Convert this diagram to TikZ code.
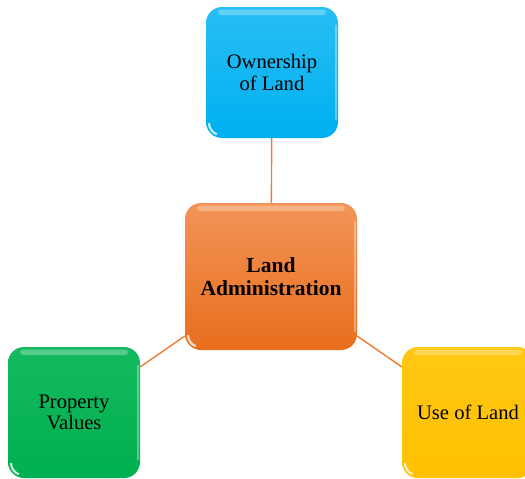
\documentclass[tikz,border=0pt]{standalone}
\usepackage{fontspec}
\setmainfont{Liberation Serif}
\usetikzlibrary{backgrounds}
\definecolor{cblue}{RGB}{0,176,240}
\definecolor{cbluetop}{RGB}{40,190,245}
\definecolor{corange}{RGB}{237,125,49}
\definecolor{corangetop}{RGB}{243,148,88}
\definecolor{corangebot}{RGB}{232,110,28}
\definecolor{cgreen}{RGB}{0,176,80}
\definecolor{cgreentop}{RGB}{20,185,95}
\definecolor{cyellow}{RGB}{255,192,0}
\definecolor{cyellowtop}{RGB}{255,200,20}
\definecolor{cline}{RGB}{237,125,49}
\tikzset{
  x=1pt,y=1pt,
  glossbox/.style={rounded corners=16pt, inner sep=0pt, align=center,
    font=\fontsize{20.6}{21.5}\selectfont,
    path picture={
      \fill[white,opacity=0.28,rounded corners=3pt]
        ([xshift=12pt,yshift=-2.5pt]path picture bounding box.north west) rectangle
        ([xshift=-12pt,yshift=-8pt]path picture bounding box.north east);
      \draw[white,opacity=0.75,line width=2.2pt]
        ([xshift=3pt,yshift=15pt]path picture bounding box.south west)
        arc[start angle=180,end angle=250,radius=12pt];
      \draw[white,opacity=0.35,line width=1.5pt]
        ([xshift=-2pt,yshift=-18pt]path picture bounding box.north east) --
        ([xshift=-2pt,yshift=18pt]path picture bounding box.south east);
    }},
  smallbox/.style={glossbox, minimum width=132pt, minimum height=131pt},
  link/.style={draw=cline, line width=1.4pt}
}
\begin{document}
\begin{tikzpicture}
\useasboundingbox (0,0) rectangle (525,-479);
\node[smallbox, top color=cbluetop, bottom color=cblue] (own) at (272,-72.5) {Ownership\\of Land};
\node[glossbox, minimum width=172pt, minimum height=147pt, top color=corangetop, bottom color=corangebot,
      font=\fontsize{21.5}{23}\selectfont\bfseries] (adm) at (271,-276.5) {Land\\Administration};
\node[smallbox, top color=cgreentop, bottom color=cgreen] (prop) at (74,-412.5) {Property\\Values};
\node[smallbox, top color=cyellowtop, bottom color=cyellow] (use) at (468,-412.5) {Use of Land};
\begin{scope}[on background layer]
\draw[link] (own) -- (adm);
\draw[link] (adm) -- (prop);
\draw[link] (adm) -- (use);
\end{scope}
\end{tikzpicture}
\end{document}
